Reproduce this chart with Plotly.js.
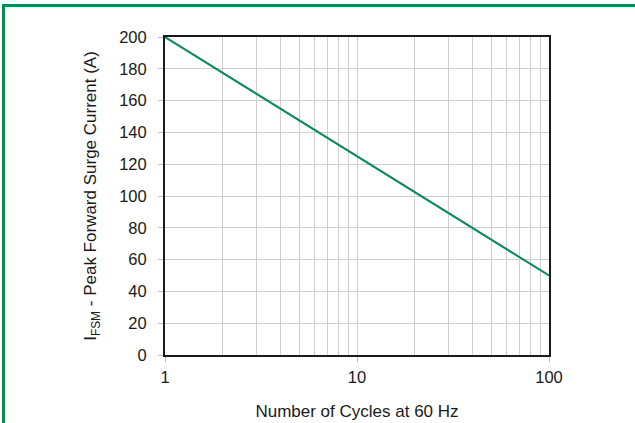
<!DOCTYPE html>
<html>
<head>
<meta charset="utf-8">
<script src="https://cdn.plot.ly/plotly-3.0.1.min.js"></script>
<style>
  html, body { margin: 0; padding: 0; background: #fff; }
  #wrap { position: relative; width: 635px; height: 423px; overflow: hidden; }
  #topline { position: absolute; left: 2px; top: 4px; width: 633px; height: 3px; background: #0b8a52; }
  #leftline { position: absolute; left: 2px; top: 4px; width: 3px; height: 419px; background: #0b8a52; }
  #chart { position: absolute; left: 0; top: 0; width: 635px; height: 423px; }
</style>
</head>
<body>
<div id="wrap">
  <div id="chart"></div>
  <div id="topline"></div>
  <div id="leftline"></div>
</div>
<script>
const cycles = [1, 10, 100];
const surgeCurrent = [200, 125, 50];
const yTicks = [0, 20, 40, 60, 80, 100, 120, 140, 160, 180, 200];
const xMajorTicks = [1, 10, 100];
const xTickLabels = ['1', '10', '100'];
const xMinorTicks = [2, 3, 4, 5, 6, 7, 8, 9, 20, 30, 40, 50, 60, 70, 80, 90];

const trace = {
  x: cycles,
  y: surgeCurrent,
  type: 'scatter',
  mode: 'lines',
  line: { color: '#0b8a55', width: 2 },
  hoverinfo: 'skip'
};

const layout = {
  width: 635,
  height: 423,
  margin: { l: 165, r: 86, t: 37, b: 68 },
  paper_bgcolor: 'rgba(0,0,0,0)',
  plot_bgcolor: '#fff',
  showlegend: false,
  font: { family: 'Liberation Sans, Arial, sans-serif', color: '#1a1a1a' },
  xaxis: {
    type: 'log',
    range: [0, 2],
    tickvals: xMajorTicks,
    ticktext: xTickLabels,
    tickfont: { size: 16.5 },
    ticks: 'outside',
    ticklen: 5,
    tickcolor: '#bbb',
    ticklabelstandoff: 1,
    showgrid: true,
    gridcolor: '#cfcfcf',
    gridwidth: 1,
    minor: { tickvals: xMinorTicks, showgrid: true, gridcolor: '#cfcfcf', gridwidth: 1, ticks: '' },
    showline: true,
    linecolor: '#1a1a1a',
    linewidth: 2,
    mirror: true,
    zeroline: false,
    title: { text: 'Number of Cycles at 60 Hz', font: { size: 17 }, standoff: 20 }
  },
  yaxis: {
    range: [0, 200],
    tickvals: yTicks,
    tickfont: { size: 16.5 },
    ticks: 'outside',
    ticklen: 5,
    tickcolor: '#bbb',
    ticklabelstandoff: 8,
    showgrid: true,
    gridcolor: '#cfcfcf',
    gridwidth: 1,
    showline: true,
    linecolor: '#1a1a1a',
    linewidth: 2,
    mirror: true,
    zeroline: false,
    title: { text: 'I<sub>FSM</sub> - Peak Forward Surge Current (A)', font: { size: 17 }, standoff: 18 }
  }
};

Plotly.newPlot('chart', [trace], layout, { displayModeBar: false, staticPlot: true });
</script>
</body>
</html>
